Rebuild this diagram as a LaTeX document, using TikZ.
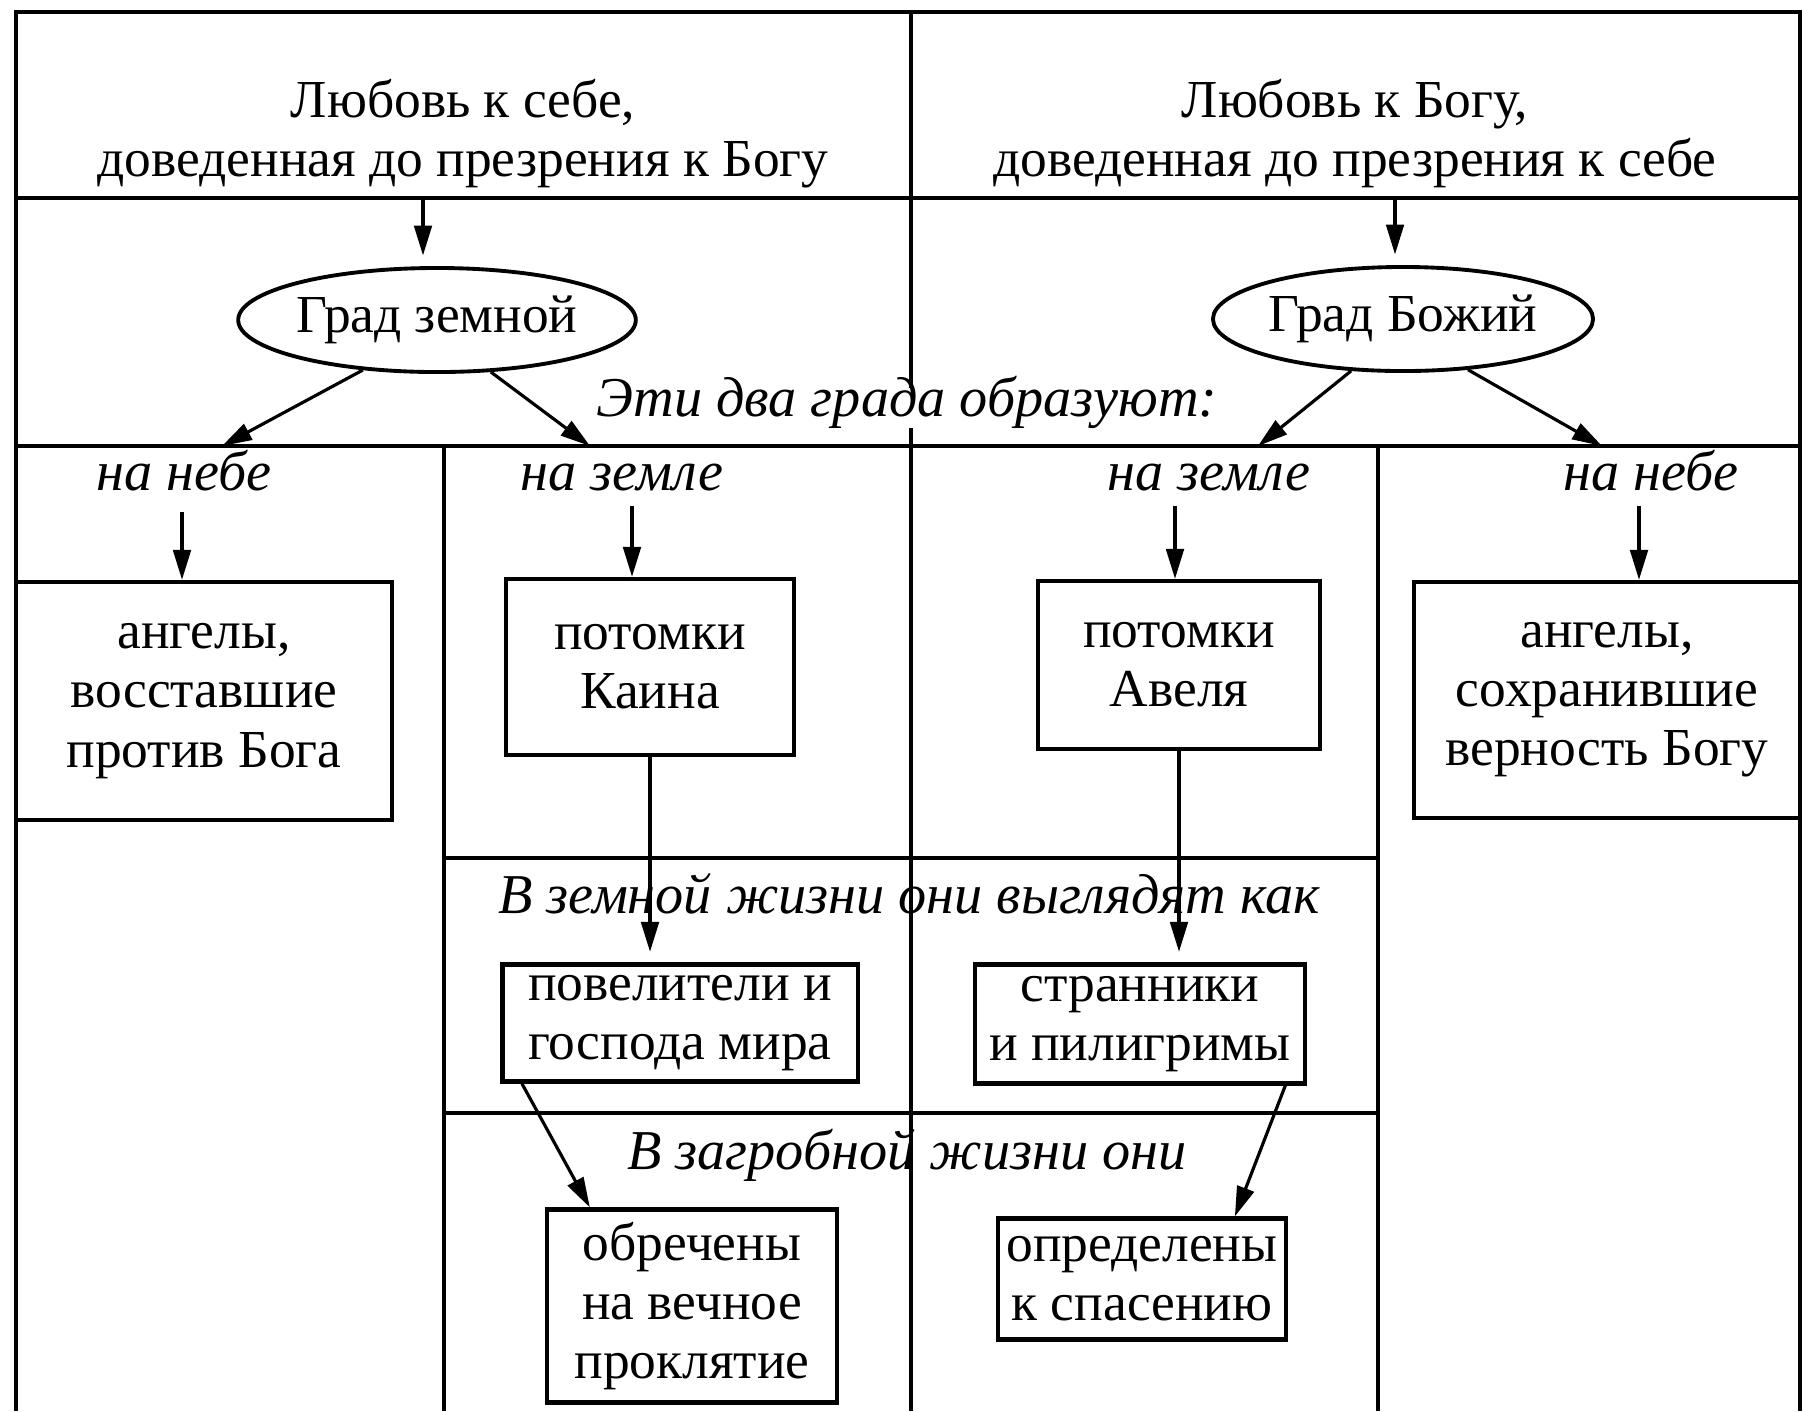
\documentclass[tikz,border=0pt]{standalone}
\usepackage{fontspec}
\setmainfont{Liberation Serif}
\usetikzlibrary{arrows.meta,shapes.geometric}

\begin{document}
\begin{tikzpicture}[x=0.01cm,y=-0.01cm,
    txt/.style={font=\fontsize{15.2}{16.8}\selectfont, align=center},
    lbl/.style={font=\fontsize{16}{18}\selectfont\itshape, text height=1.55ex, text depth=0.45ex},
    box/.style={txt, draw, line width=1.2pt, inner sep=0pt},
    city/.style={txt, draw, ellipse, line width=1.1pt, inner sep=0pt, minimum width=3.43cm, minimum height=1.04cm},
    arr/.style={line width=0.9pt, -{Triangle[length=8.5pt,width=5pt]}}]

    \useasboundingbox (0,0) rectangle (1803,1411);

    % table lines
    \draw[line width=1.2pt] (16,1411) -- (16,12) -- (1800,12) -- (1800,1411);
    \draw[line width=1.2pt] (16,198) -- (1800,198);
    \draw[line width=1.2pt] (16,446) -- (1800,446);
    \draw[line width=1.1pt] (911,12) -- (911,1411);
    \draw[line width=1.1pt] (444,446) -- (444,1411);
    \draw[line width=1.1pt] (1378,446) -- (1378,1411);
    \draw[line width=1.1pt] (444,858) -- (1378,858);
    \draw[line width=1.1pt] (444,1113) -- (1378,1113);

    \node[txt] (selfl) at (463,134) {Любовь к себе,\\доведенная до презрения к Богу};
    \node[txt] (godl) at (1355,134) {Любовь к Богу,\\доведенная до презрения к себе};

    \node[city] (earth) at (437,320) {Град земной};
    \node[city] (heaven) at (1403,319) {Град Божий};

    \node[lbl, fill=white, inner sep=1pt] (form) at (907,408) {Эти два града образуют:};

    \node[lbl] (nebl) at (184,482) {на небе};
    \node[lbl] (zeml) at (622,482) {на земле};
    \node[lbl] (zemr) at (1209,482) {на земле};
    \node[lbl] (nebr) at (1651,482) {на небе};

    \node[box, minimum width=3.76cm, minimum height=2.38cm] (angl) at (204,701) {ангелы,\\восставшие\\против Бога};
    \node[box, minimum width=2.88cm, minimum height=1.76cm] (kain) at (650,667) {потомки\\Каина};
    \node[box, minimum width=2.82cm, minimum height=1.68cm] (abel) at (1179,665) {потомки\\Авеля};
    \node[box, minimum width=3.86cm, minimum height=2.36cm] (angr) at (1607,700) {ангелы,\\сохранившие\\верность Богу};

    \node[lbl] (life) at (909,905) {В земной жизни они выглядят как};
    \node[box, minimum width=3.55cm, minimum height=1.17cm] (lord) at (680,1023) {повелители и\\господа мира};
    \node[box, minimum width=3.30cm, minimum height=1.19cm] (wand) at (1140,1024) {странники\\и пилигримы};

    \node[lbl] (after) at (907,1161) {В загробной жизни они};
    \node[box, minimum width=2.90cm, minimum height=1.93cm] (doom) at (692,1306) {обречены\\на вечное\\проклятие};
    \node[box, minimum width=2.88cm, minimum height=1.21cm] (save) at (1142,1279) {определены\\к спасению};

    % arrows
    \coordinate (t1) at (423,198);
    \coordinate (t2) at (1395,198);
    \draw[arr, shorten >=3pt] (t1) -- (t1 |- earth.north);
    \draw[arr, shorten >=3pt] (t2) -- (t2 |- heaven.north);

    \coordinate (e1) at (222,446);
    \coordinate (e2) at (590,446);
    \coordinate (e3) at (1258,446);
    \coordinate (e4) at (1602,446);
    \draw[arr] (earth.214) -- (e1);
    \draw[arr] (earth.316) -- (e2);
    \draw[arr] (heaven.225) -- (e3);
    \draw[arr] (heaven.322) -- (e4);

    \coordinate (s1) at (182,512);
    \coordinate (s2) at (632,506);
    \coordinate (s3) at (1175,506);
    \coordinate (s4) at (1639,506);
    \draw[arr] (s1) -- (s1 |- angl.north);
    \draw[arr] (s2) -- (s2 |- kain.north);
    \draw[arr] (s3) -- (s3 |- abel.north);
    \draw[arr] (s4) -- (s4 |- angr.north);

    \draw[arr, shorten >=3pt] (kain.south) -- (kain.south |- lord.north);
    \draw[arr, shorten >=3pt] (abel.south) -- (abel.south |- wand.north);
    \draw[arr] (lord.201) -- (doom.136);
    \draw[arr] (wand.337) -- (save.34);

\end{tikzpicture}
\end{document}
